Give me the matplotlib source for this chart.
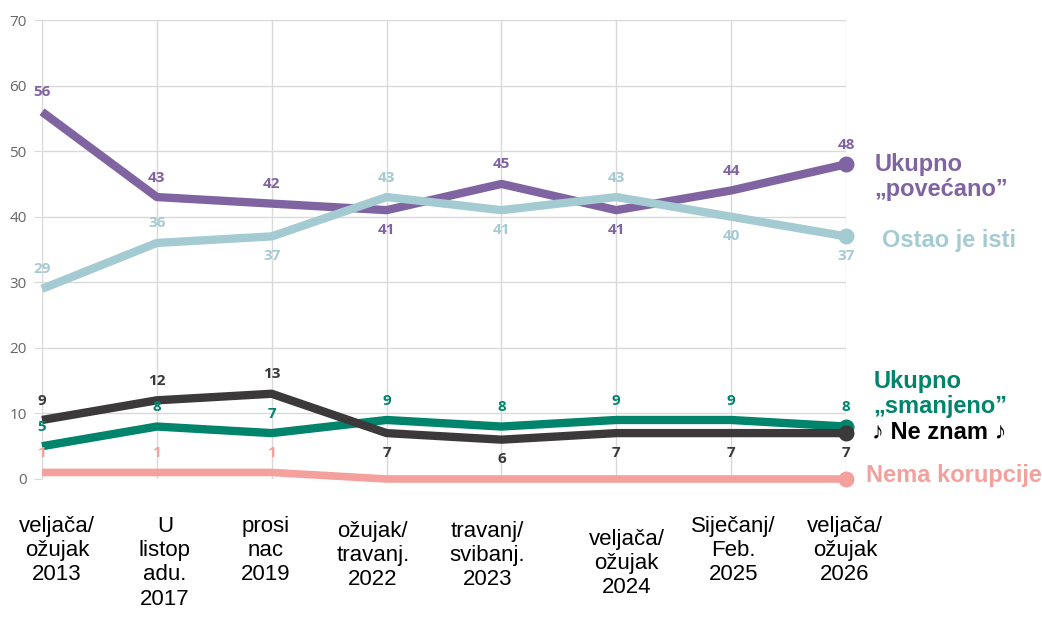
import numpy as np
import matplotlib.pyplot as plt
from matplotlib.transforms import blended_transform_factory

# podaci
periods = ["veljača/\nožujak\n2013", "U\nlistop\nadu.\n2017", "prosi\nnac\n2019",
           "ožujak/\ntravanj.\n2022", "travanj/\nsvibanj.\n2023", "veljača/\nožujak\n2024",
           "Siječanj/\nFeb.\n2025", "veljača/\nožujak\n2026"]
povecano = [56, 43, 42, 41, 45, 41, 44, 48]
isti = [29, 36, 37, 43, 41, 43, 40, 37]
ne_znam = [9, 12, 13, 7, 6, 7, 7, 7]
smanjeno = [5, 8, 7, 9, 8, 9, 9, 8]
nema = [1, 1, 1, 0, 0, 0, 0, 0]

names = ["Ukupno\n„povećano”", "Ostao je isti", "♪ Ne znam ♪", "Ukupno\n„smanjeno”", "Nema korupcije"]

# izgled
c_pov = "#8064a2"
c_isti = "#a5cbd2"
c_nz = "#3c393b"
c_sman = "#00846b"
c_nema = "#f4a19d"

fig = plt.figure(figsize=(10.42, 6.21), dpi=100)
ax = fig.add_axes([42 / 1042, 1 - 479 / 621, (846 - 42) / 1042, (479 - 20) / 621])

x = np.arange(len(periods))

def draw(vals, color, lw, z, where, show=lambda v: True):
    ax.plot(x, vals, color=color, lw=lw, solid_capstyle="butt", solid_joinstyle="round",
            zorder=z, clip_on=False)
    ax.plot(x[-1], vals[-1], "o", color=color, ms=10.5, zorder=z, clip_on=False)
    for xi, v, w in zip(x, vals, where):
        if not show(v):
            continue
        ax.annotate(str(v), (xi, v), xytext=(0, 14 * w), textcoords="offset points",
                    ha="center", va="center", color=color, fontsize=11,
                    fontfamily="Open Sans", fontweight="bold", zorder=10)

draw(povecano, c_pov, 6, 4, [1, 1, 1, -1, 1, -1, 1, 1])
draw(isti, c_isti, 6, 5, [1, 1, -1, 1, -1, 1, -1, -1])
draw(smanjeno, c_sman, 6, 3, [1] * 8)
draw(ne_znam, c_nz, 6, 4, [1, 1, 1, -1, -1, -1, -1, -1])
draw(nema, c_nema, 5.5, 2, [1] * 8, show=lambda v: v > 0)

# nazivi serija desno
name_style = dict(fontsize=17, fontweight="bold", va="center", ha="left",
                  family=["Liberation Sans", "DejaVu Sans"], linespacing=1.1)
ax.text(7.25, 46.0, names[0], color=c_pov, **name_style)
ax.text(7.31, 36.4, names[1], color=c_isti, **name_style)
ax.text(7.24, 13.0, names[3], color=c_sman, **name_style)
ax.text(7.23, 7.1, names[2], color="black", **name_style)
ax.text(7.17, 0.5, names[4], color=c_nema, **name_style)

# oznake x osi
label_dx = [0.13, 1.07, 1.95, 2.88, 3.88, 5.09, 6.02, 6.99]
label_dy = [0, 0, 0, 5, 5, 13, 0, 0]
trans = blended_transform_factory(ax.transData, fig.transFigure)
for lbl, lx, dy in zip(periods, label_dx, label_dy):
    ax.text(lx, 1 - (516 + dy) / 621, lbl, transform=trans, ha="center", va="top",
            fontsize=16, family="Liberation Sans", linespacing=1.2)

ax.set_xlim(0, 7)
ax.set_ylim(0, 70)
ax.set_yticks(range(0, 71, 10))
ax.set_xticks(x)
ax.set_xticklabels([])
ax.tick_params(axis="x", length=0)
ax.tick_params(axis="y", length=6, color="#d9d9d9", labelcolor="#666666", labelsize=11, pad=5)
for t in ax.get_yticklabels():
    t.set_fontfamily("Open Sans")
ax.grid(True, color="#d9d9d9", lw=1)
ax.set_axisbelow(True)
for s in ax.spines.values():
    s.set_visible(False)

fig.savefig("out.png", dpi=100)
